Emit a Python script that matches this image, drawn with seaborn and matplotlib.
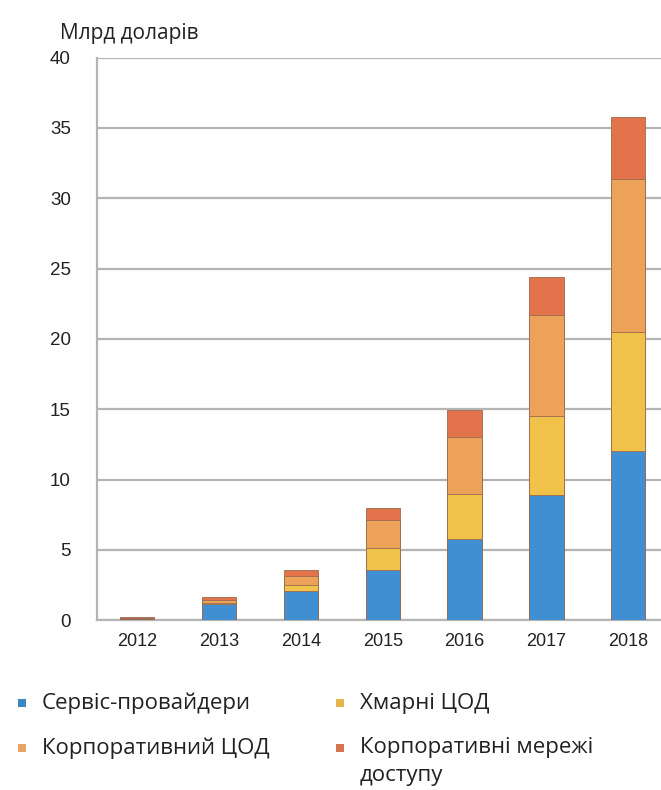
import matplotlib
matplotlib.use("Agg")
import matplotlib.pyplot as plt
import seaborn as sns
import numpy as np
import pandas as pd
from matplotlib.patches import Rectangle

years = ["2012", "2013", "2014", "2015", "2016", "2017", "2018"]
service_providers = [0.05, 1.15, 2.10, 3.55, 5.80, 8.90, 12.00]
cloud_dc = [0.02, 0.10, 0.40, 1.55, 3.20, 5.60, 8.50]
corporate_dc = [0.05, 0.15, 0.65, 2.00, 4.05, 7.20, 10.90]
corporate_access = [0.12, 0.25, 0.40, 0.85, 1.90, 2.70, 4.40]

series_names = ["Сервіс-провайдери", "Хмарні ЦОД", "Корпоративний ЦОД",
                "Корпоративні мережі\nдоступу"]
colors = ["#3f8fd2", "#f0c24a", "#eda25a", "#e2734a"]
legend_colors = ["#3a88c2", "#e6b64c", "#e8a466", "#d4754f"]
y_ticks = [0, 5, 10, 15, 20, 25, 30, 35, 40]

sns.set_theme(style="white")
plt.rcParams['font.family'] = ['Open Sans', 'DejaVu Sans']

fig = plt.figure(figsize=(6.61, 7.90), dpi=100)
ax = fig.add_axes([0.147, 0.215, 0.853, 0.712])

layers = [service_providers, cloud_dc, corporate_dc, corporate_access]
cum = np.cumsum(np.array(layers), axis=0)
df = pd.DataFrame({"year": years})
for i in range(3, -1, -1):
    df["v"] = cum[i]
    sns.barplot(data=df, x="year", y="v", color=colors[i], width=0.42,
                saturation=1, edgecolor="#9a6a50", linewidth=0.6, ax=ax,
                zorder=3)

tick_font = ['Liberation Sans', 'DejaVu Sans']
ax.set_ylim(0, 40)
ax.set_xlim(-0.49, 6.40)
ax.set_yticks(y_ticks)
ax.set_yticklabels([str(t) for t in y_ticks], fontsize=13.5,
                   family=tick_font, color="#222222")
ax.set_xticklabels(years, fontsize=13, family=tick_font, color="#222222")
ax.set_xlabel("")
ax.set_ylabel("")
ax.yaxis.grid(True, color="#b4b4b4", linewidth=1.6, zorder=0)
ax.set_axisbelow(True)
for s in ["top", "right"]:
    ax.spines[s].set_visible(False)
ax.spines["left"].set_color("#b4b4b4")
ax.spines["left"].set_linewidth(1.6)
ax.spines["bottom"].set_color("#b4b4b4")
ax.spines["bottom"].set_linewidth(1.6)
ax.tick_params(axis="y", length=6, color="#b4b4b4", width=1.2, pad=13)
ax.tick_params(axis="x", length=0, pad=9)
ax.set_xticks(np.arange(0.5, 6.5, 1), minor=True)
ax.tick_params(axis="x", which="minor", length=4, color="#b4b4b4", width=1)

fig.text(0.091, 0.958, "Млрд доларів", fontsize=15, color="#222222",
         ha="left", va="center")

# legend (two columns, marker aligned with first line of text)
W, H = 661.0, 790.0
legend_pos = [(22, 703), (340, 703), (22, 748), (340, 748)]
order = [0, 1, 2, 3]
for k, i in enumerate(order):
    px, py = legend_pos[k]
    fig.patches.append(Rectangle(((px - 4) / W, 1 - (py + 4) / H), 8 / W, 8 / H,
                                 transform=fig.transFigure,
                                 facecolor=legend_colors[i], edgecolor="none"))
    lines = series_names[i].split("\n")
    for j, line in enumerate(lines):
        fig.text((px + 20) / W, 1 - (py + j * 27) / H, line, fontsize=16,
                 color="#222222", ha="left", va="center")

fig.savefig("out.png", dpi=100)
